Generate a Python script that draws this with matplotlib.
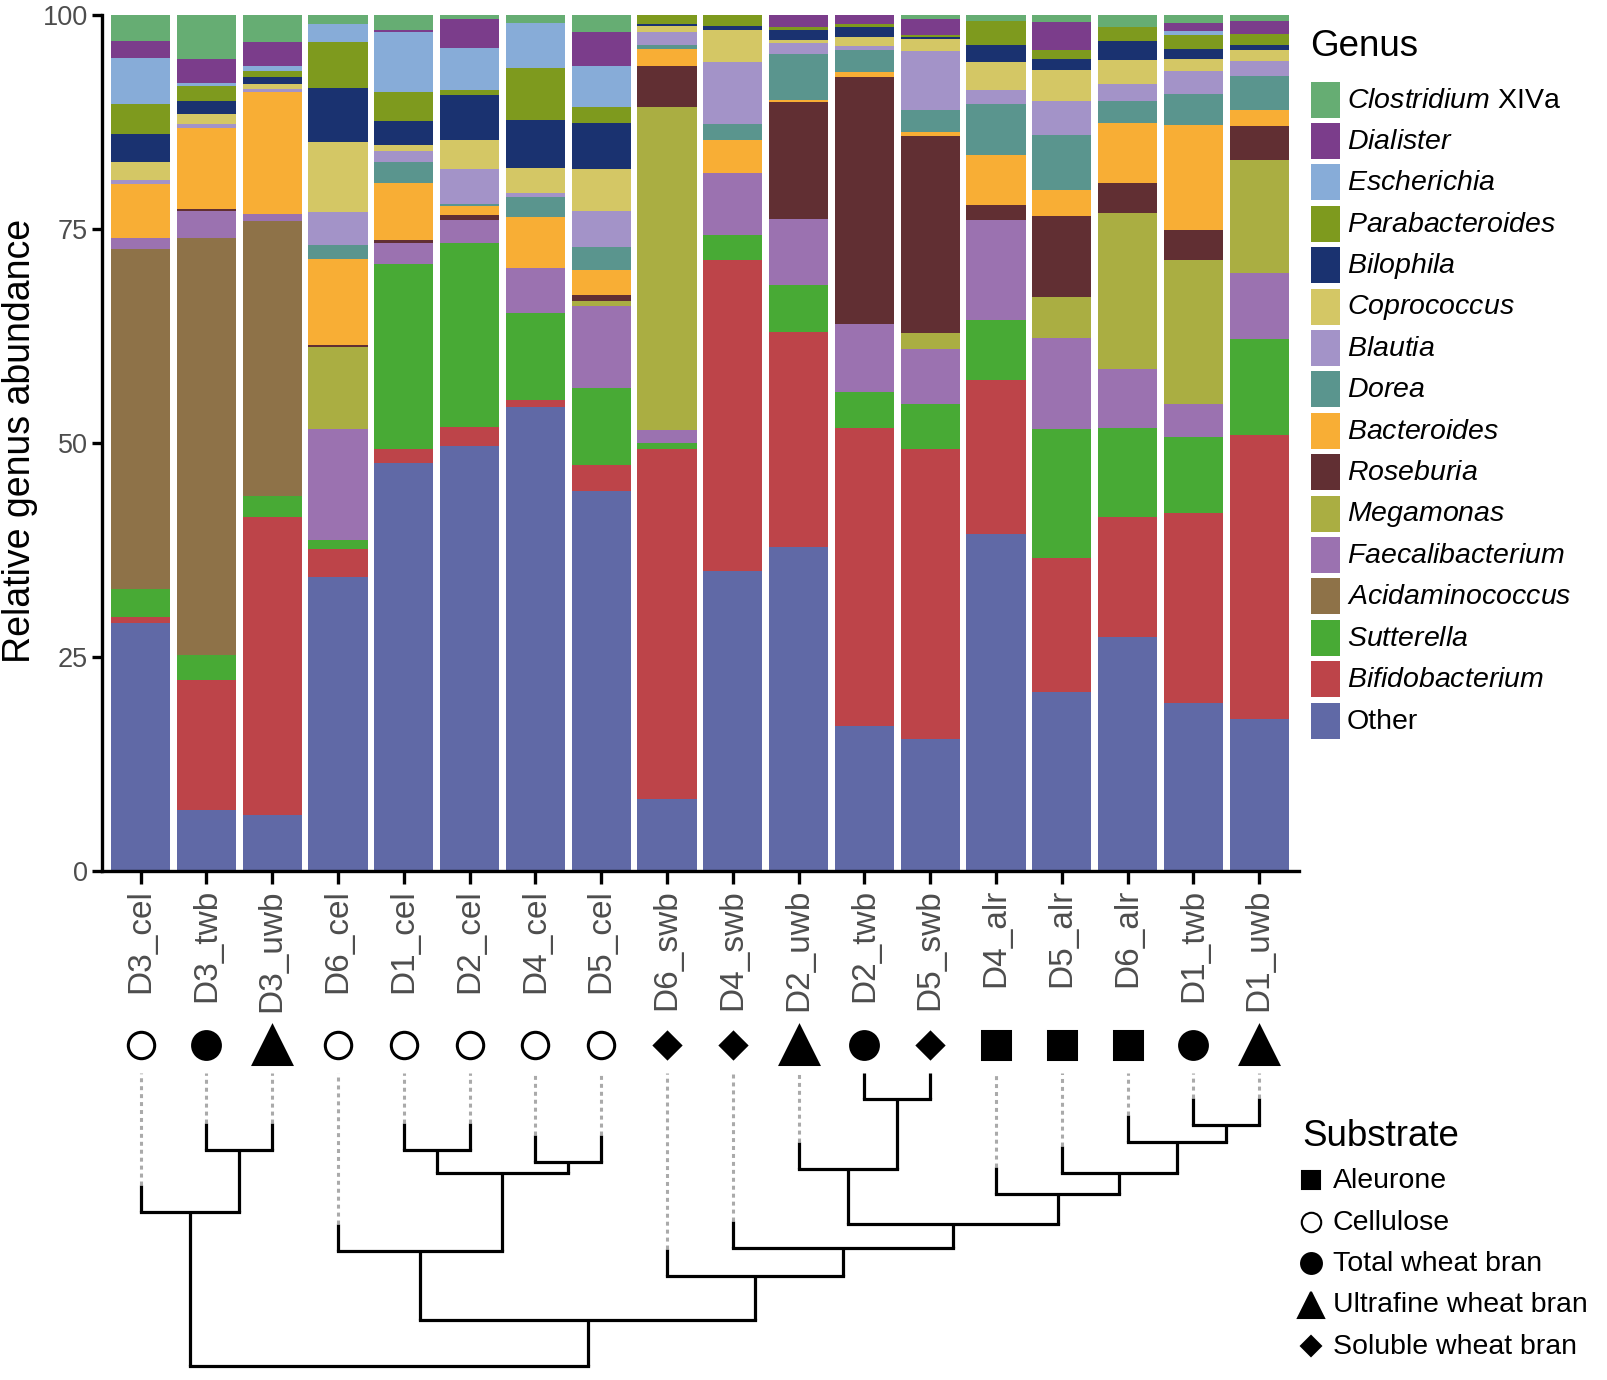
import matplotlib
matplotlib.use('Agg')
import matplotlib.pyplot as plt
from matplotlib.patches import Rectangle
import numpy as np

plt.rcParams['font.family'] = ['Liberation Sans', 'DejaVu Sans']
plt.rcParams['mathtext.fontset'] = 'custom'
plt.rcParams['mathtext.rm'] = 'Liberation Sans'
plt.rcParams['mathtext.it'] = 'Liberation Sans:italic'

# ---------------- data ----------------
samples = ['D3_cel', 'D3_twb', 'D3_uwb', 'D6_cel', 'D1_cel', 'D2_cel', 'D4_cel', 'D5_cel',
           'D6_swb', 'D4_swb', 'D2_uwb', 'D2_twb', 'D5_swb', 'D4_alr', 'D5_alr', 'D6_alr',
           'D1_twb', 'D1_uwb']

# stacking order: bottom -> top
genera = ['Other', 'Bifidobacterium', 'Sutterella', 'Acidaminococcus', 'Faecalibacterium',
          'Megamonas', 'Roseburia', 'Bacteroides', 'Dorea', 'Blautia', 'Coprococcus',
          'Bilophila', 'Parabacteroides', 'Escherichia', 'Dialister', 'Clostridium XIVa']

other = [29.0, 7.1, 6.6, 34.3, 47.7, 49.7, 54.2, 44.4, 8.4, 35.1, 37.8, 16.9, 15.4, 39.4, 20.9, 27.3, 19.6, 17.7]
bifidobacterium = [0.7, 15.2, 34.7, 3.3, 1.6, 2.2, 0.8, 3.0, 40.9, 36.3, 25.2, 34.9, 33.9, 18.0, 15.7, 14.1, 22.2, 33.2]
sutterella = [3.2, 2.9, 2.5, 1.1, 21.6, 21.5, 10.2, 9.0, 0.7, 2.9, 5.5, 4.2, 5.3, 7.0, 15.0, 10.3, 8.9, 11.2]
acidaminococcus = [39.8, 48.8, 32.1, 0, 0, 0, 0, 0, 0, 0, 0, 0, 0, 0, 0, 0, 0, 0]
faecalibacterium = [1.2, 3.1, 0.9, 12.9, 2.5, 2.6, 5.3, 9.6, 1.5, 7.3, 7.7, 7.9, 6.4, 11.7, 10.7, 6.9, 3.9, 7.8]
megamonas = [0, 0, 0, 9.6, 0, 0, 0, 0.6, 37.7, 0, 0, 0, 1.9, 0, 4.7, 18.3, 16.8, 13.2]
roseburia = [0, 0.2, 0, 0.3, 0.3, 0.6, 0, 0.7, 4.9, 0, 13.6, 28.8, 23.0, 1.7, 9.5, 3.5, 3.5, 3.9]
bacteroides = [6.4, 9.5, 14.2, 10.0, 6.7, 1.1, 5.9, 2.9, 1.9, 3.8, 0.3, 0.6, 0.4, 5.8, 3.0, 7.0, 12.3, 1.9]
dorea = [0, 0, 0, 1.6, 2.4, 0.2, 2.3, 2.7, 0.5, 1.9, 5.3, 2.6, 2.6, 6.0, 6.5, 2.5, 3.6, 4.0]
blautia = [0.4, 0.5, 0.4, 3.9, 1.3, 4.1, 0.5, 4.2, 1.5, 7.2, 1.3, 0.5, 6.9, 1.6, 3.9, 2.0, 2.6, 1.7]
coprococcus = [2.1, 1.1, 0.5, 8.2, 0.7, 3.4, 2.9, 4.9, 0.7, 3.8, 0.4, 1.0, 1.4, 3.3, 3.7, 2.9, 1.5, 1.3]
bilophila = [3.3, 1.6, 0.9, 6.3, 2.8, 5.2, 5.6, 5.4, 0.2, 0.4, 1.2, 1.2, 0.2, 2.0, 1.3, 2.2, 1.1, 0.6]
parabacteroides = [3.5, 1.7, 0.7, 5.3, 3.4, 0.6, 6.1, 1.9, 1.1, 1.3, 0.3, 0.3, 0.3, 2.8, 1.0, 1.6, 1.7, 1.3]
escherichia = [5.4, 0.4, 0.6, 2.1, 7.0, 5.0, 5.3, 4.8, 0, 0, 0, 0, 0, 0, 0, 0, 0.4, 0]
dialister = [2.0, 2.8, 2.7, 0, 0.2, 3.3, 0, 3.9, 0, 0, 1.4, 1.1, 1.8, 0, 3.3, 0, 1.0, 1.5]
clostridium = [3.0, 5.1, 3.2, 1.1, 1.8, 0.5, 0.9, 2.0, 0, 0, 0, 0, 0.5, 0.7, 0.8, 1.4, 0.9, 0.7]

values = [other, bifidobacterium, sutterella, acidaminococcus, faecalibacterium, megamonas,
          roseburia, bacteroides, dorea, blautia, coprococcus, bilophila, parabacteroides,
          escherichia, dialister, clostridium]

colors = ['#6069a6', '#bd4449', '#48aa35', '#8e7248', '#9b72b0', '#aaae42', '#612f33',
          '#f8ae35', '#5a958e', '#a393c8', '#d4c765', '#1a3270', '#7e9a1e', '#87acd8',
          '#7b3d8b', '#66ad73']

substrate_of = {'alr': 'Aleurone', 'cel': 'Cellulose', 'twb': 'Total wheat bran',
                'uwb': 'Ultrafine wheat bran', 'swb': 'Soluble wheat bran'}
substrates = ['Aleurone', 'Cellulose', 'Total wheat bran', 'Ultrafine wheat bran', 'Soluble wheat bran']

# dendrogram merges (leaf indices follow sample order; new nodes numbered 18, 19, ...)
merges = [(11, 12, 0.089), (16, 17, 0.177), (15, 19, 0.235), (1, 2, 0.263), (4, 5, 0.263),
          (6, 7, 0.304), (10, 18, 0.328), (22, 23, 0.341), (14, 20, 0.341), (13, 26, 0.413),
          (0, 21, 0.474), (24, 27, 0.515), (9, 29, 0.597), (3, 25, 0.608), (8, 30, 0.693),
          (31, 32, 0.843), (28, 33, 1.0)]

# ---------------- styles ----------------
W, H = 1607, 1380
fig = plt.figure(figsize=(W / 100, H / 100), dpi=100)

ax_l = 101.7 / W
ax_w = 1197 / W
xlim = (-0.59, 17.6)

marker_style = {
    'Aleurone': dict(marker='s', mfc='black', mec='black'),
    'Cellulose': dict(marker='o', mfc='white', mec='black'),
    'Total wheat bran': dict(marker='o', mfc='black', mec='black'),
    'Ultrafine wheat bran': dict(marker='^', mfc='black', mec='black'),
    'Soluble wheat bran': dict(marker='D', mfc='black', mec='black'),
}
marker_size_main = {'Aleurone': 20, 'Cellulose': 19, 'Total wheat bran': 20,
                    'Ultrafine wheat bran': 28, 'Soluble wheat bran': 13.5}
marker_size_leg = {'Aleurone': 13, 'Cellulose': 14, 'Total wheat bran': 15,
                   'Ultrafine wheat bran': 19, 'Soluble wheat bran': 10}

# ---------------- bar chart ----------------
ax = fig.add_axes([ax_l, 1 - 871 / H, ax_w, 856 / H])
x = np.arange(len(samples))
bottom = np.zeros(len(samples))
for g, vals, c in zip(genera, values, colors):
    vals = np.array(vals, dtype=float)
    ax.bar(x, vals, bottom=bottom, width=0.9, color=c, linewidth=0)
    bottom += vals

ax.set_xlim(*xlim)
ax.set_ylim(0, 100)
ax.set_yticks([0, 25, 50, 75, 100])
ax.set_yticklabels(['0', '25', '50', '75', '100'])
ax.set_xticks(x)
ax.set_xticklabels(samples, rotation=90)
for s in ['top', 'right']:
    ax.spines[s].set_visible(False)
for s in ['left', 'bottom']:
    ax.spines[s].set_linewidth(2.4)
ax.tick_params(axis='y', length=7, width=2.4, labelsize=19.5, labelcolor='#4d4d4d', pad=3)
ax.tick_params(axis='x', length=9, width=2.4, labelsize=24, labelcolor='#4d4d4d', pad=4)
fig.text(20.5 / W, 1 - 441 / H, 'Relative genus abundance', rotation=90,
         ha='center', va='center', fontsize=27, color='black')

# ---------------- substrate markers ----------------
max_ = fig.add_axes([ax_l, 1 - 1070 / H, ax_w, 50 / H])
max_.set_xlim(*xlim)
max_.set_ylim(0, 1)
max_.axis('off')
for i, s in enumerate(samples):
    sub = substrate_of[s.split('_')[1]]
    max_.plot([i], [0.5], linestyle='none', markersize=marker_size_main[sub],
              markeredgewidth=2.2, clip_on=False, **marker_style[sub])

# ---------------- dendrogram ----------------
dax = fig.add_axes([ax_l, 1 - 1366 / H, ax_w, 293 / H])
dax.set_xlim(*xlim)
dax.set_ylim(1.0, 0.0)
dax.axis('off')
hang = 0.092
lw = 2.3
n = len(samples)
pos = {i: float(i) for i in range(n)}
hgt = {i: 0.0 for i in range(n)}
for k, (a, b, h) in enumerate(merges):
    nid = n + k
    dax.plot([pos[a], pos[b]], [h, h], color='black', lw=lw, solid_capstyle='projecting',
             clip_on=False)
    for c in (a, b):
        if c < n:
            ys = max(h - hang, 0.0)
            dax.plot([pos[c], pos[c]], [h, ys], color='black', lw=lw,
                     solid_capstyle='butt', clip_on=False)
            if ys > 0:
                dax.plot([pos[c], pos[c]], [ys, 0.0], color='#aaaaaa', lw=2.2,
                         linestyle=(0, (1.3, 1.3)), clip_on=False)
        else:
            dax.plot([pos[c], pos[c]], [h, hgt[c]], color='black', lw=lw,
                     solid_capstyle='butt', clip_on=False)
    pos[nid] = (pos[a] + pos[b]) / 2
    hgt[nid] = h

# ---------------- legends (figure pixel coordinates) ----------------
lax = fig.add_axes([0, 0, 1, 1], facecolor='none')
lax.set_xlim(0, W)
lax.set_ylim(H, 0)
lax.axis('off')

lax.text(1310, 46, 'Genus', fontsize=26.5, ha='left', va='center')
key_y0, key_dy = 99.6, 41.4
for j, g in enumerate(genera[::-1]):
    c = colors[::-1][j]
    yc = key_y0 + j * key_dy
    lax.add_patch(Rectangle((1311, yc - 18), 28.5, 36, facecolor=c, edgecolor='none'))
    if g == 'Other':
        lab = 'Other'
    elif g == 'Clostridium XIVa':
        lab = r'$\mathit{Clostridium}$ XIVa'
    else:
        lab = r'$\mathit{' + g + '}$'
    lax.text(1347, yc + 1, lab, fontsize=20.5, ha='left', va='center')

lax.text(1302, 1137, 'Substrate', fontsize=26.5, ha='left', va='center')
sub_y0, sub_dy = 1180, 41.5
for j, sname in enumerate(substrates):
    yc = sub_y0 + j * sub_dy
    lax.plot([1311], [yc], linestyle='none', markersize=marker_size_leg[sname],
             markeredgewidth=1.5, **marker_style[sname])
    lax.text(1333, yc + 1, sname, fontsize=20.5, ha='left', va='center')

fig.savefig('out.png', dpi=100)
